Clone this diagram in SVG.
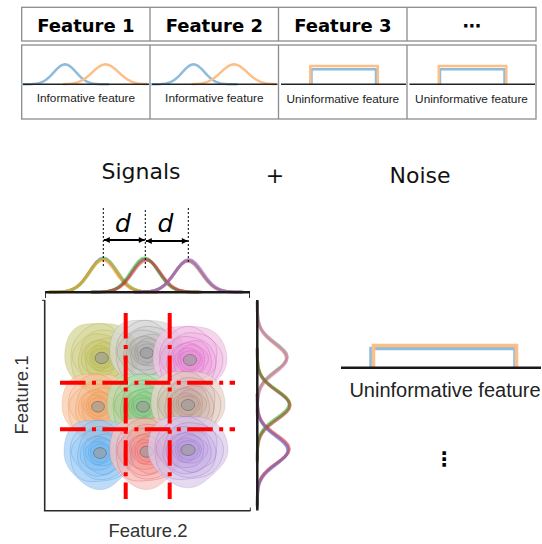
<svg xmlns="http://www.w3.org/2000/svg" xmlns:xlink="http://www.w3.org/1999/xlink" width="542" height="544" viewBox="0 0 542 544">
<style>
.tb{fill:none;stroke:#8c8c8c;stroke-width:1.3}
.hd{font-family:"DejaVu Sans",sans-serif;font-weight:bold;font-size:18px;text-anchor:middle;fill:#000}
.lb{font-family:"Liberation Sans",Arial,sans-serif;font-size:11.8px;text-anchor:middle;fill:#222}
.bl{stroke:#222;stroke-width:1.5;fill:none}
.tc{fill:none;stroke-width:2.5;stroke-linejoin:round}
.tB{stroke:#8fbcdd}
.tO{stroke:#fdbf88}
.ttl{font-family:"DejaVu Sans",sans-serif;font-size:22px;fill:#111}
.m{fill:none;stroke-width:3;stroke-opacity:.55;stroke-linejoin:round}
.o{fill:var(--l);fill-opacity:.75;stroke:var(--b);stroke-opacity:.3;stroke-width:.6}
.i{fill:var(--b);fill-opacity:.07;stroke:var(--b);stroke-opacity:.5;stroke-width:.6}
.cr{fill:#999;fill-opacity:.6;stroke:#555;stroke-opacity:.6;stroke-width:.8}
.rl{fill:none;stroke:#ff0000;stroke-width:4;stroke-dasharray:25.6 6.4 4 6.4}
.ax{stroke:#2a2a2a;stroke-width:1.6;fill:none}
.mx{stroke:#1a1a1a;stroke-width:2.5;fill:none}
.dt{stroke:#000;stroke-width:1;stroke-dasharray:2 2;fill:none}
.ar{stroke:#000;stroke-width:2;fill:none;marker-start:url(#ah);marker-end:url(#ah)}
.dl{font-family:"DejaVu Sans",sans-serif;font-style:italic;font-size:25px;text-anchor:middle;fill:#000}
.fl{font-family:"Liberation Sans",Arial,sans-serif;font-size:18.5px;fill:#333;text-anchor:middle}
.nz{fill:none;stroke-width:3.5}
</style>
<defs>
<path id="g" vector-effect="non-scaling-stroke" d="M-4 0L-3.75 -.001L-3.5 -.002L-3.25 -.005L-3 -.011L-2.75 -.023L-2.5 -.044L-2.25 -.080L-2 -.135L-1.75 -.216L-1.5 -.325L-1.25 -.458L-1 -.607L-.75 -.755L-.5 -.883L-.25 -.969L0 -1L.25 -.969L.5 -.883L.75 -.755L1 -.607L1.25 -.458L1.5 -.325L1.75 -.216L2 -.135L2.25 -.080L2.5 -.044L2.75 -.023L3 -.011L3.25 -.005L3.5 -.002L3.75 -.001L4 0"/>
<path id="g3" vector-effect="non-scaling-stroke" d="M-3.25 0L-3 -.011L-2.75 -.023L-2.5 -.044L-2.25 -.080L-2 -.135L-1.75 -.216L-1.5 -.325L-1.25 -.458L-1 -.607L-.75 -.755L-.5 -.883L-.25 -.969L0 -1L.25 -.969L.5 -.883L.75 -.755L1 -.607L1.25 -.458L1.5 -.325L1.75 -.216L2 -.135L2.25 -.080L2.5 -.044L2.75 -.023L3 -.011L3.25 0"/>
<path id="b" vector-effect="non-scaling-stroke" d="M1 0C1 .265 .823 .478 .6505 .6505C.478 .823 .2785 1.05 0 1.05C-.2785 1.05 -.4936 .85 -.6718 .6718C-.85 .4936 -1 .265 -1 0C-1 -.265 -.9662 -.5612 -.7637 -.7637C-.5612 -.9662 -.2466 -.93 0 -.93C.2466 -.93 .5299 -.9125 .7212 -.7212C.9125 -.5299 1 -.265 1 0Z"/>
<g id="lv">
<use xlink:href="#b" class="o"/>
<use xlink:href="#b" class="i" transform="rotate(40) scale(.87)"/>
<use xlink:href="#b" class="i" transform="rotate(95) scale(.76)"/>
<use xlink:href="#b" class="i" transform="rotate(150) scale(.66)"/>
<use xlink:href="#b" class="i" transform="translate(.03 .02) rotate(210) scale(.57)"/>
<use xlink:href="#b" class="i" transform="rotate(260) scale(.48)"/>
<use xlink:href="#b" class="i" transform="translate(.02 -.02) rotate(320) scale(.4)"/>
<use xlink:href="#b" class="i" transform="rotate(20) scale(.33)"/>
<use xlink:href="#b" class="i" transform="rotate(120) scale(.27)"/>
<ellipse class="cr" vector-effect="non-scaling-stroke" cx="0" cy="0" rx=".18" ry=".155"/>
</g>
<marker id="ah" viewBox="0 0 10 10" refX="10" refY="5" markerWidth="7" markerHeight="6" markerUnits="userSpaceOnUse" orient="auto-start-reverse"><path d="M0 0L10 5L0 10z" fill="#000"/></marker>
</defs>

<g id="table">
<rect class="tb" x="21.7" y="7.3" width="514.3" height="33.7"/>
<rect class="tb" x="21.7" y="45" width="514.3" height="74"/>
<path class="tb" d="M150 7.3V41M278.5 7.3V41M407 7.3V41M150 45V119M278.5 45V119M407 45V119"/>
<text class="hd" x="85.9" y="31.7">Feature 1</text>
<text class="hd" x="214.3" y="31.7">Feature 2</text>
<text class="hd" x="342.8" y="31.7">Feature 3</text>
<text class="hd" x="471.5" y="31.7">⋯</text>
<use xlink:href="#g" class="tc tB" transform="translate(65 84.3) scale(11 20)"/>
<use xlink:href="#g3" class="tc tO" transform="translate(105.5 84.3) scale(13 20)"/>
<use xlink:href="#g" class="tc tB" transform="translate(193.5 84.3) scale(11 20)"/>
<use xlink:href="#g3" class="tc tO" transform="translate(234 84.3) scale(13 20)"/>
<path class="tc tB" d="M311.5 84.3V69.2H376V84.3"/>
<path class="tc tO" d="M310.3 84.3V66H377.8V84.3"/>
<path class="tc tB" d="M440 84.3V69.2H504.5V84.3"/>
<path class="tc tO" d="M438.8 84.3V66H506.3V84.3"/>
<path class="bl" d="M23 84.3H149M152 84.3H277.5M281 84.3H406M409.5 84.3H535"/>
<text class="lb" x="85.9" y="101.7">Informative feature</text>
<text class="lb" x="214.3" y="101.7">Informative feature</text>
<text class="lb" x="342.8" y="102.7">Uninformative feature</text>
<text class="lb" x="471.5" y="102.7">Uninformative feature</text>
</g>

<g id="titles">
<text class="ttl" x="141" y="179" text-anchor="middle">Signals</text>
<text class="ttl" x="275" y="183" text-anchor="middle">+</text>
<text class="ttl" x="420" y="183" text-anchor="middle">Noise</text>
</g>

<g id="top-marginal">
<use xlink:href="#g" class="m" stroke="#1f77b4" transform="translate(103.3 292) scale(13.5 34)"/>
<use xlink:href="#g" class="m" stroke="#ff7f0e" transform="translate(102.5 292) scale(13.5 32.5)"/>
<use xlink:href="#g" class="m" stroke="#bcbd22" transform="translate(104 292) scale(13.8 33)"/>
<use xlink:href="#g" class="m" stroke="#7f7f7f" transform="translate(145.5 292) scale(13.5 33)"/>
<use xlink:href="#g" class="m" stroke="#2ca02c" transform="translate(144.8 292) scale(13.5 34)"/>
<use xlink:href="#g" class="m" stroke="#d62728" transform="translate(146.5 292) scale(13.8 32)"/>
<use xlink:href="#g" class="m" stroke="#e377c2" transform="translate(188.5 292) scale(13.5 32)"/>
<use xlink:href="#g" class="m" stroke="#8c564b" transform="translate(187.8 292) scale(13.5 31)"/>
<use xlink:href="#g" class="m" stroke="#9467bd" transform="translate(188.8 292) scale(13.8 32.5)"/>
<path class="mx" d="M45 292.3H250"/>
<path d="M45.5 293V298M249.5 293V298" stroke="#333" stroke-width="1"/>
</g>

<g id="spacing">
<path class="dt" d="M103.3 208V266M145.3 210V268M188.3 208V262"/>
<path class="ar" d="M103.8 240H144.8"/>
<path class="ar" d="M145.8 241H187.8"/>
<text class="dl" x="123" y="232">d</text>
<text class="dl" x="165.5" y="232">d</text>
</g>

<g id="right-marginal">
<use xlink:href="#g" class="m" stroke="#bcbd22" transform="matrix(0 14 -29 0 257.3 358)"/>
<use xlink:href="#g" class="m" stroke="#7f7f7f" transform="matrix(0 14 -30 0 257.3 357)"/>
<use xlink:href="#g" class="m" stroke="#e377c2" transform="matrix(0 14.3 -29.5 0 257.3 358.5)"/>
<use xlink:href="#g" class="m" stroke="#ff7f0e" transform="matrix(0 14 -33 0 257.3 405)"/>
<use xlink:href="#g" class="m" stroke="#2ca02c" transform="matrix(0 14 -32 0 257.3 404)"/>
<use xlink:href="#g" class="m" stroke="#8c564b" transform="matrix(0 14.3 -32.5 0 257.3 405.5)"/>
<use xlink:href="#g" class="m" stroke="#1f77b4" transform="matrix(0 14 -31 0 257.3 450)"/>
<use xlink:href="#g" class="m" stroke="#d62728" transform="matrix(0 14 -32 0 257.3 449)"/>
<use xlink:href="#g" class="m" stroke="#9467bd" transform="matrix(0 14.3 -30.5 0 257.3 450.5)"/>
<path class="mx" d="M257.3 300V510.5"/>
</g>

<g id="clusters">
<g id="c-olive"><use xlink:href="#lv" style="--l:#d6d69c;--b:#a8a820" transform="translate(101.7 358) scale(37 37)"/></g>
<g id="c-gray"><use xlink:href="#lv" style="--l:#d9d9d9;--b:#7a7a7a" transform="translate(146.7 353) scale(37 35)"/></g>
<g id="c-pink"><use xlink:href="#lv" style="--l:#edc9e5;--b:#e040c0" transform="translate(190 360) scale(37 36)"/></g>
<g id="c-orange"><use xlink:href="#lv" style="--l:#f7cbb0;--b:#f08020" transform="translate(98 406.7) scale(36 35)"/></g>
<g id="c-green"><use xlink:href="#lv" style="--l:#b9e0b4;--b:#40b040" transform="translate(143 406.7) scale(36 35)"/></g>
<g id="c-brown"><use xlink:href="#lv" style="--l:#e8d5cc;--b:#a07060" transform="translate(188 405) scale(37 36)"/></g>
<g id="c-blue"><use xlink:href="#lv" style="--l:#abcff3;--b:#2a96f0" transform="translate(100 453) scale(36 35)"/></g>
<g id="c-red"><use xlink:href="#lv" style="--l:#f6c6c3;--b:#f04040" transform="translate(146.7 451.7) scale(37 36)"/></g>
<g id="c-purple"><use xlink:href="#lv" style="--l:#dccdea;--b:#9060d0" transform="translate(188 450) scale(40 36)"/></g>
</g>

<g id="thresholds">
<path class="rl" d="M125.7 313V499M169.7 313V499"/>
<path class="rl" d="M60 382.7H235M60 429.3H235"/>
</g>

<g id="axes">
<path class="ax" d="M44.7 300V510.7H250.5"/>
<path d="M42 300.3H45M250.3 507.5V511" stroke="#333" stroke-width="1"/>
<text class="fl" x="148" y="537">Feature.2</text>
<text class="fl" transform="translate(28 395) rotate(-90)">Feature.1</text>
</g>

<g id="noise">
<path class="nz" stroke="#8fbcdd" d="M371 367V348.5H515V367"/>
<path class="nz" stroke="#fdbf88" d="M373.5 367V345.5H516.5V367"/>
<path class="mx" d="M341 367.7H541"/>
<text x="445" y="397.3" font-family="Liberation Sans, Arial, sans-serif" font-size="20" fill="#222" text-anchor="middle">Uninformative feature</text>
<text x="444" y="466" font-family="DejaVu Sans, sans-serif" font-weight="bold" font-size="20" fill="#000" text-anchor="middle">⋮</text>
</g>
</svg>
